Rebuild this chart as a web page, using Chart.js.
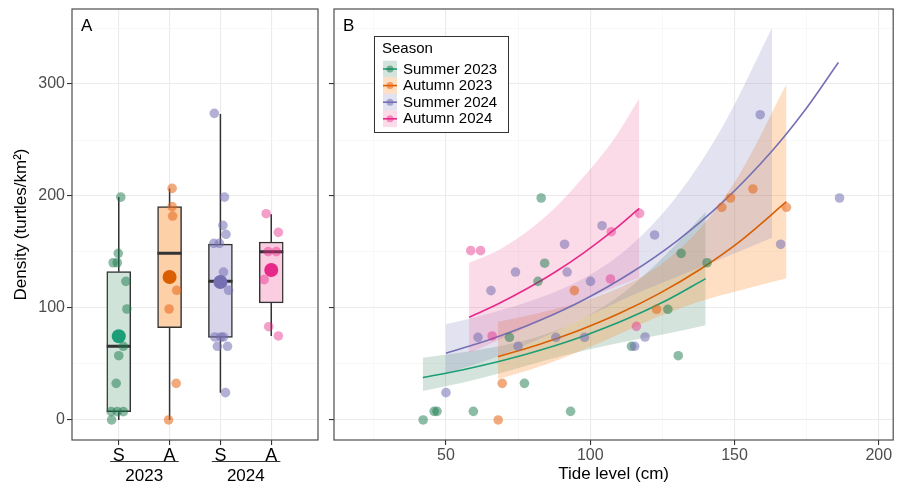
<!DOCTYPE html>
<html>
<head>
<meta charset="utf-8">
<script src="https://cdn.jsdelivr.net/npm/chart.js@4.4.1/dist/chart.umd.min.js"></script>
<style>
  body { margin: 0; background: #fff; width: 898px; height: 490px; position: relative; overflow: hidden; }
  #panelA { position: absolute; left: 0; top: 0; }
  #panelB { position: absolute; left: 325px; top: 0; }
</style>
</head>
<body>
<canvas id="panelA" width="325" height="490"></canvas>
<canvas id="panelB" width="573" height="490"></canvas>
<script>
const seasons = ['Summer 2023', 'Autumn 2023', 'Summer 2024', 'Autumn 2024'];
const groupLabels = ['S', 'A', 'S', 'A'];
const yearLabels = ['2023', '2024'];
const densityTicks = [0, 50, 100, 150, 200, 250, 300, 350];
const tideTicks = [25, 50, 75, 100, 125, 150, 175, 200];

// panel A - boxplot summaries (S23, A23, S24, A24)
const boxLow = [0, 0, 24.4, 75];
const boxQ1 = [7.4, 82.4, 73.8, 104.5];
const boxMedian = [65.8, 148.8, 123.8, 150.3];
const boxQ3 = [132.4, 190.5, 157, 158.9];
const boxHigh = [199, 206.8, 273.2, 183.6];
const boxMean = [74.7, 127.7, 123.2, 133.9];

// panel A - jittered points: offset from group centre + density
const jitS23 = [0.04, -0.01, -0.11, -0.03, 0.14, 0.16, 0.09, 0, -0.05, -0.15, -0.03, 0.09, -0.14];
const ptsS23 = [199, 148.8, 140.4, 140.4, 123.8, 99.1, 65.8, 57.4, 32.7, 7.4, 7.4, 7.4, 0];
const jitA23 = [0.05, 0.05, 0.06, 0.14, -0.01, 0.13, -0.02];
const ptsA23 = [206.8, 190.5, 182.1, 115.8, 99.1, 32.7, 0];
const jitS24 = [-0.12, 0.08, 0.05, 0.11, -0.13, -0.02, 0.06, 0.16, -0.11, 0.01, 0.06, -0.06, 0.14, 0.10];
const ptsS24 = [273.8, 199, 173.8, 165.8, 157.7, 157.7, 132.1, 115.8, 74.1, 74.1, 74.1, 65.8, 65.8, 24.4];
const jitA24 = [-0.10, 0.14, -0.06, 0.10, -0.14, -0.05, 0.14];
const ptsA24 = [184.2, 167.5, 150.3, 150.3, 125.3, 83.3, 75];

// panel B - observations
const tideS23 = [42.1, 45.9, 46.9, 59.5, 93.2, 77.2, 72, 84.2, 81.9, 83, 131.5, 140.5, 126.9, 114.3, 130.5];
const densS23 = [0, 7.7, 7.7, 7.7, 7.7, 32.7, 73.8, 140, 123.8, 198.2, 148.8, 140.4, 98.8, 65.8, 57.4];
const tideA23 = [68.1, 69.5, 94.5, 123, 145.6, 148.6, 156.4, 168];
const densA23 = [0, 32.7, 115.5, 98.8, 189.9, 198.2, 206.3, 189.9];
const tideS24 = [50, 61.1, 65.6, 74.1, 75, 88.1, 91.1, 92, 98, 100.1, 104.1, 115.4, 119, 122.3, 158.9, 166, 186.4];
const densS24 = [24.4, 73.8, 115.5, 132.1, 65.8, 73.8, 156.9, 132.1, 73.8, 123.8, 173.5, 65.8, 74.1, 165.2, 272.6, 156.9, 198.2];
const tideA24 = [58.6, 62, 66, 107, 107.3, 116, 117.1];
const densA24 = [151.2, 151.2, 75, 125.9, 168.1, 83.6, 184.5];

// panel B - fitted curves and confidence bands
const fitTideS23 = [42, 56, 70, 84, 98, 112, 126, 140];
const fitDensS23 = [37.8, 44.9, 53.3, 63.4, 75.3, 89.4, 106.2, 126.2];
const bandLowS23 = [25.8, 33.4, 42.6, 52.8, 62.1, 69.8, 76.7, 84.5];
const bandHighS23 = [55.5, 60.4, 66.7, 76.1, 91.3, 114.5, 147.1, 186];

const fitTideA23 = [68, 82, 96, 110, 124, 138, 152, 168];
const fitDensA23 = [56.5, 67.2, 79.9, 95.0, 113.0, 134.4, 159.8, 194.9];
const bandLowA23 = [36.5, 47.3, 61.0, 76.6, 92.6, 105.8, 115.8, 126.6];
const bandHighA23 = [87.6, 95.4, 104.7, 117.8, 137.9, 170.7, 220.5, 300];

const fitTideS24 = [50, 66, 82, 98, 114, 130, 146, 163, 174, 186];
const fitDensS24 = [59.5, 72.5, 88.3, 107.6, 131.2, 159.8, 194.7, 240.2, 275.2, 319.2];
const bandTideS24 = [50, 66, 82, 98, 114, 130, 146, 163];
const bandLowS24 = [41.5, 54.9, 71.8, 91.3, 110.6, 127.8, 144.4, 162.8];
const bandHighS24 = [85.4, 95.8, 108.6, 126.8, 155.6, 199.8, 262.5, 350];

const fitTideA24 = [58, 68, 78, 88, 98, 108, 117];
const fitDensA24 = [91.7, 103.6, 117.2, 132.4, 149.7, 169.2, 188.9];
const bandLowA24 = [59.9, 71.0, 82.9, 95.1, 107.0, 118.1, 127.3];
const bandHighA24 = [140.3, 151.3, 168, 190, 218, 250, 287];

// colours
const lineCol = ['#1B9E77', '#D95F02', '#7570B3', '#E7298A'];
const pointCol = ['rgba(25,121,75,0.5)', 'rgba(230,100,20,0.55)', 'rgba(117,112,179,0.55)', 'rgba(231,41,138,0.45)'];
const boxFill = ['#CFE3D9', '#FDD0A8', '#D8D5EA', '#FBCDE0'];
const bandFill = ['rgba(60,130,95,0.22)', 'rgba(253,150,60,0.3)', 'rgba(117,112,179,0.2)', 'rgba(240,90,150,0.22)'];

Chart.defaults.font.family = '"Liberation Sans", Arial, sans-serif';

const pts = (xs, ys) => xs.map((x, k) => ({ x: x, y: ys[k] }));
const isMajor = (v, step) => Math.abs(v % step) < 1e-9;

function densityAxis(withLabels) {
  return {
    type: 'linear', min: -17.9, max: 367,
    afterBuildTicks: s => { s.ticks = densityTicks.map(v => ({ value: v })); },
    afterFit: s => { s.width = withLabels ? 72 : 9; s.paddingTop = 0; s.paddingBottom = 0; },
    border: { display: false },
    grid: {
      color: c => isMajor(c.tick.value, 100) ? '#EBEBEB' : '#F5F5F5',
      lineWidth: c => isMajor(c.tick.value, 100) ? 1.1 : 0.7,
      tickColor: c => isMajor(c.tick.value, 100) ? '#333' : 'rgba(0,0,0,0)',
      tickLength: 5
    },
    ticks: {
      display: withLabels,
      callback: v => isMajor(v, 100) ? v : '',
      color: '#4D4D4D', font: { size: 16 }, padding: 2
    },
    title: {
      display: withLabels, text: 'Density (turtles/km²)', color: '#000',
      font: { size: 17 }, padding: { top: 11, bottom: 0 }
    }
  };
}

// ---------- panel A ----------
const decorA = {
  id: 'decorA',
  afterDatasetsDraw(chart) {
    const { ctx, chartArea: a, scales: { x } } = chart;
    ctx.save();
    ctx.strokeStyle = '#4D4D4D';
    ctx.lineWidth = 1.2;
    ctx.strokeRect(a.left, a.top, a.right - a.left, a.bottom - a.top);
    ctx.fillStyle = '#000';
    ctx.font = '17px "Liberation Sans", Arial, sans-serif';
    ctx.textBaseline = 'middle';
    ctx.textAlign = 'left';
    ctx.fillText('A', a.left + 9, a.top + 17);
    ctx.textAlign = 'center';
    ctx.strokeStyle = '#333';
    ctx.lineWidth = 1;
    yearLabels.forEach((yr, k) => {
      const x1 = x.getPixelForValue(2 * k - 0.17);
      const x2 = x.getPixelForValue(2 * k + 1.18);
      ctx.beginPath();
      ctx.moveTo(x1, a.bottom + 21.5);
      ctx.lineTo(x2, a.bottom + 21.5);
      ctx.stroke();
      ctx.fillText(yr, x.getPixelForValue(2 * k + 0.5), a.bottom + 36);
    });
    ctx.restore();
  }
};

const whiskerData = [];
const medianData = [];
boxQ1.forEach((q, i) => {
  whiskerData.push({ x: i, y: boxLow[i] }, { x: i, y: q }, { x: i, y: null },
                   { x: i, y: boxQ3[i] }, { x: i, y: boxHigh[i] }, { x: i, y: null });
  medianData.push({ x: i - 0.237, y: boxMedian[i] }, { x: i + 0.237, y: boxMedian[i] }, { x: i, y: null });
});

const jitters = [jitS23, jitA23, jitS24, jitA24];
const groupPts = [ptsS23, ptsA23, ptsS24, ptsA24];

const datasetsA = [
  {
    type: 'line', data: whiskerData, borderColor: '#333', borderWidth: 1.5,
    pointRadius: 0, spanGaps: false, order: 6
  },
  {
    type: 'bar', data: boxQ1.map((q, i) => ({ x: i, y: [q, boxQ3[i]] })),
    backgroundColor: boxFill, borderColor: '#333', borderWidth: 1.5,
    borderSkipped: false, barThickness: 24, order: 5
  },
  {
    type: 'line', data: medianData, borderColor: '#333', borderWidth: 3,
    pointRadius: 0, spanGaps: false, order: 4
  }
];
jitters.forEach((jit, i) => {
  datasetsA.push({
    type: 'scatter', data: jit.map((j, k) => ({ x: i + j, y: groupPts[i][k] })),
    backgroundColor: pointCol[i], borderWidth: 0, pointRadius: 4.8, order: 2
  });
});
datasetsA.push({
  type: 'scatter', data: boxMean.map((m, i) => ({ x: i, y: m })),
  backgroundColor: lineCol, borderWidth: 0, pointRadius: 7, order: 1
});

new Chart(document.getElementById('panelA'), {
  type: 'scatter',
  data: { datasets: datasetsA },
  options: {
    responsive: false, animation: false, events: [],
    layout: { padding: { top: 9, right: 6, left: 0, bottom: 0 } },
    plugins: { legend: { display: false }, tooltip: { enabled: false } },
    scales: {
      x: {
        type: 'linear', min: -0.92, max: 3.92, offset: false,
        afterBuildTicks: s => { s.ticks = groupLabels.map((l, i) => ({ value: i })); },
        afterFit: s => { s.height = 50; s.paddingLeft = 0; s.paddingRight = 0; },
        border: { display: false },
        grid: { color: '#EBEBEB', lineWidth: 1.1, tickColor: '#333', tickLength: 5, offset: false },
        ticks: {
          callback: (v, i) => groupLabels[i], color: '#000', font: { size: 18 },
          padding: 0, maxRotation: 0, autoSkip: false
        }
      },
      y: densityAxis(true)
    }
  },
  plugins: [decorA]
});

// ---------- panel B ----------
const decorB = {
  id: 'decorB',
  afterDatasetsDraw(chart) {
    const { ctx, chartArea: a } = chart;
    ctx.save();
    ctx.strokeStyle = '#4D4D4D';
    ctx.lineWidth = 1.2;
    ctx.strokeRect(a.left, a.top, a.right - a.left, a.bottom - a.top);
    ctx.fillStyle = '#000';
    ctx.font = '17px "Liberation Sans", Arial, sans-serif';
    ctx.textBaseline = 'middle';
    ctx.fillText('B', a.left + 9, a.top + 17);

    // legend
    const lx = a.left + 40, ly = a.top + 27;
    ctx.fillStyle = '#fff';
    ctx.fillRect(lx, ly, 134, 96);
    ctx.strokeStyle = '#333';
    ctx.lineWidth = 1;
    ctx.strokeRect(lx + 0.5, ly + 0.5, 134, 96);
    ctx.fillStyle = '#000';
    ctx.font = '15px "Liberation Sans", Arial, sans-serif';
    ctx.fillText('Season', lx + 8, ly + 13);
    seasons.forEach((s, i) => {
      const cy = ly + 33 + i * 16.6;
      const kx = lx + 9;
      ctx.fillStyle = bandFill[i];
      ctx.fillRect(kx, cy - 8.3, 14, 16.6);
      ctx.strokeStyle = lineCol[i];
      ctx.lineWidth = 1.6;
      ctx.beginPath();
      ctx.moveTo(kx, cy);
      ctx.lineTo(kx + 14, cy);
      ctx.stroke();
      ctx.fillStyle = pointCol[i];
      ctx.beginPath();
      ctx.arc(kx + 7, cy, 3.5, 0, Math.PI * 2);
      ctx.fill();
      ctx.fillStyle = '#000';
      ctx.fillText(s, lx + 29, cy + 0.5);
    });
    ctx.restore();
  }
};

const obsTide = [tideS23, tideA23, tideS24, tideA24];
const obsDens = [densS23, densA23, densS24, densA24];
const fitTide = [fitTideS23, fitTideA23, fitTideS24, fitTideA24];
const fitDens = [fitDensS23, fitDensA23, fitDensS24, fitDensA24];
const bandTide = [fitTideS23, fitTideA23, bandTideS24, fitTideA24];
const bandLow = [bandLowS23, bandLowA23, bandLowS24, bandLowA24];
const bandHigh = [bandHighS23, bandHighA23, bandHighS24, bandHighA24];

const datasetsB = [];
seasons.forEach((s, i) => {
  datasetsB.push({
    type: 'line', data: pts(bandTide[i], bandLow[i]), borderColor: 'rgba(0,0,0,0)',
    borderWidth: 0, pointRadius: 0, fill: false, cubicInterpolationMode: 'monotone', order: 20 - i
  });
  datasetsB.push({
    type: 'line', data: pts(bandTide[i], bandHigh[i]), borderColor: 'rgba(0,0,0,0)',
    borderWidth: 0, pointRadius: 0, fill: '-1', backgroundColor: bandFill[i],
    cubicInterpolationMode: 'monotone', order: 20 - i
  });
});
seasons.forEach((s, i) => {
  datasetsB.push({
    type: 'line', label: s, data: pts(fitTide[i], fitDens[i]), borderColor: lineCol[i],
    borderWidth: 1.6, pointRadius: 0, fill: false, cubicInterpolationMode: 'monotone', order: 10 - i
  });
});
seasons.forEach((s, i) => {
  datasetsB.push({
    type: 'scatter', data: pts(obsTide[i], obsDens[i]), backgroundColor: pointCol[i],
    borderWidth: 0, pointRadius: 4.8, order: 5 - i
  });
});

new Chart(document.getElementById('panelB'), {
  type: 'scatter',
  data: { datasets: datasetsB },
  options: {
    responsive: false, animation: false, events: [],
    layout: { padding: { top: 9, right: 1, left: 0, bottom: 0 } },
    plugins: { legend: { display: false }, tooltip: { enabled: false } },
    scales: {
      x: {
        type: 'linear', min: 11.2, max: 205,
        afterBuildTicks: s => { s.ticks = tideTicks.map(v => ({ value: v })); },
        afterFit: s => { s.height = 50; s.paddingLeft = 0; s.paddingRight = 0; },
        border: { display: false },
        grid: {
          color: c => isMajor(c.tick.value, 50) ? '#EBEBEB' : '#F5F5F5',
          lineWidth: c => isMajor(c.tick.value, 50) ? 1.1 : 0.7,
          tickColor: c => isMajor(c.tick.value, 50) ? '#333' : 'rgba(0,0,0,0)',
          tickLength: 5
        },
        ticks: {
          callback: v => isMajor(v, 50) ? v : '', color: '#4D4D4D', font: { size: 16 },
          padding: 1, maxRotation: 0, autoSkip: false
        },
        title: {
          display: true, text: 'Tide level (cm)', color: '#000',
          font: { size: 17 }, padding: { top: 0, bottom: 5 }
        }
      },
      y: densityAxis(false)
    }
  },
  plugins: [decorB]
});
</script>
</body>
</html>
